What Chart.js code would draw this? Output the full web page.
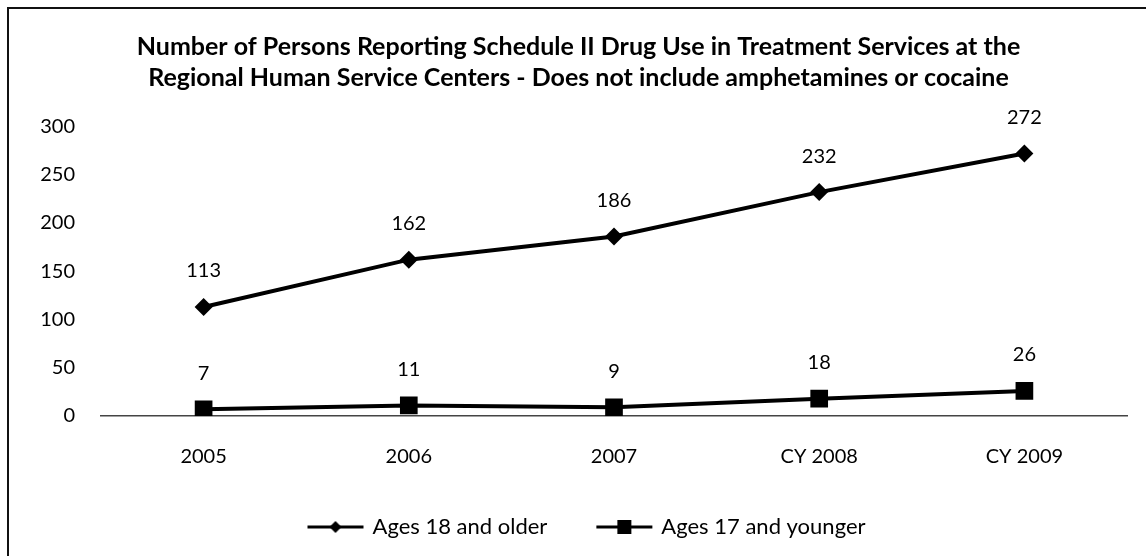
<!DOCTYPE html>
<html>
<head>
<meta charset="utf-8">
<script src="https://cdn.jsdelivr.net/npm/chart.js@4/dist/chart.umd.min.js"></script>
<style>
  html, body { margin: 0; padding: 0; background: #fff; }
  #frame {
    position: absolute; left: 7px; top: 7px; width: 1150px; height: 600px;
    border: 2px solid #111; box-sizing: border-box;
  }
  #wrap { position: absolute; left: 0; top: 0; width: 1146px; height: 556px; }
</style>
</head>
<body>
<div id="frame"></div>
<div id="wrap"><canvas id="drugChart" width="1146" height="556"></canvas></div>
<script>
// chart data
const years = ['2005', '2006', '2007', 'CY 2008', 'CY 2009'];
const adults = [113, 162, 186, 232, 272];
const youth = [7, 11, 9, 18, 26];
const yTicks = [0, 50, 100, 150, 200, 250, 300];

const FONT = 'Lato, Calibri, "Open Sans", sans-serif';

// legend sample: short line with the marker in the middle
function legendSample(kind) {
  const c = document.createElement('canvas');
  c.width = 62;
  c.height = 20;
  const ctx = c.getContext('2d');
  ctx.strokeStyle = '#000';
  ctx.fillStyle = '#000';
  ctx.lineWidth = 3;
  ctx.beginPath();
  ctx.moveTo(2, 10);
  ctx.lineTo(58, 10);
  ctx.stroke();
  ctx.beginPath();
  if (kind === 'diamond') {
    ctx.moveTo(30, 4); ctx.lineTo(36, 10); ctx.lineTo(30, 16); ctx.lineTo(24, 10);
  } else {
    ctx.rect(23, 3, 14, 14);
  }
  ctx.closePath();
  ctx.fill();
  return c;
}

// value labels above each point
const valueLabels = {
  id: 'valueLabels',
  afterDatasetsDraw(chart) {
    const ctx = chart.ctx;
    ctx.save();
    ctx.font = '20px ' + FONT;
    ctx.fillStyle = '#000';
    ctx.textAlign = 'center';
    ctx.textBaseline = 'middle';
    chart.data.datasets.forEach((ds, i) => {
      chart.getDatasetMeta(i).data.forEach((pt, j) => {
        ctx.fillText(ds.data[j], pt.x, pt.y - 36);
      });
    });
    ctx.restore();
  },
};

// title and legend sit a little right of the canvas centre
const nudgeBoxes = {
  id: 'nudgeBoxes',
  afterLayout(chart) {
    chart.titleBlock.left += 15;
    chart.titleBlock.right += 15;
    chart.legend.left += 25;
    chart.legend.right += 25;
  },
};

new Chart(document.getElementById('drugChart').getContext('2d'), {
  type: 'line',
  data: {
    labels: years,
    datasets: [
      {
        label: 'Ages 18 and older',
        data: adults,
        borderColor: '#000',
        backgroundColor: '#000',
        borderWidth: 4,
        pointStyle: 'rectRot',
        pointRadius: 9,
        pointBackgroundColor: '#000',
        pointBorderWidth: 0,
        tension: 0,
      },
      {
        label: 'Ages 17 and younger',
        data: youth,
        borderColor: '#000',
        backgroundColor: '#000',
        borderWidth: 4,
        pointStyle: 'rect',
        pointRadius: 12.5,
        pointBackgroundColor: '#000',
        pointBorderWidth: 0,
        tension: 0,
      },
    ],
  },
  options: {
    responsive: false,
    animation: false,
    layout: { padding: { left: 0, right: 19, top: 0, bottom: 8 } },
    scales: {
      x: {
        offset: true,
        grid: { display: false, drawTicks: false },
        border: { display: true, color: '#444', width: 1.5 },
        ticks: { color: '#000', padding: 29, font: { family: FONT, size: 20 } },
        afterFit: (scale) => { scale.height = 47; },
      },
      y: {
        min: 0,
        max: 300,
        grid: { display: false, drawTicks: false },
        border: { display: false },
        afterBuildTicks: (scale) => { scale.ticks = yTicks.map((v) => ({ value: v })); },
        ticks: { color: '#000', padding: 26, font: { family: FONT, size: 20 } },
        afterFit: (scale) => { scale.width = 101; },
      },
    },
    plugins: {
      title: {
        display: true,
        text: [
          'Number of Persons Reporting Schedule II Drug Use in Treatment Services at the',
          'Regional Human Service Centers - Does not include amphetamines or cocaine',
        ],
        color: '#000',
        font: { family: FONT, size: 25, weight: 'bold', lineHeight: 1.24 },
        padding: { top: 31.5, bottom: 33 },
      },
      legend: {
        position: 'bottom',
        labels: {
          color: '#000',
          font: { family: FONT, size: 22 },
          usePointStyle: true,
          pointStyleWidth: 50,
          boxHeight: 22,
          padding: 53,
          generateLabels: (chart) =>
            chart.data.datasets.map((ds, i) => ({
              text: ds.label,
              pointStyle: legendSample(i === 0 ? 'diamond' : 'square'),
              fillStyle: '#000',
              strokeStyle: '#000',
              lineWidth: 0,
              fontColor: '#000',
              datasetIndex: i,
              hidden: false,
            })),
        },
      },
      tooltip: { enabled: false },
    },
  },
  plugins: [valueLabels, nudgeBoxes],
});
</script>
</body>
</html>
